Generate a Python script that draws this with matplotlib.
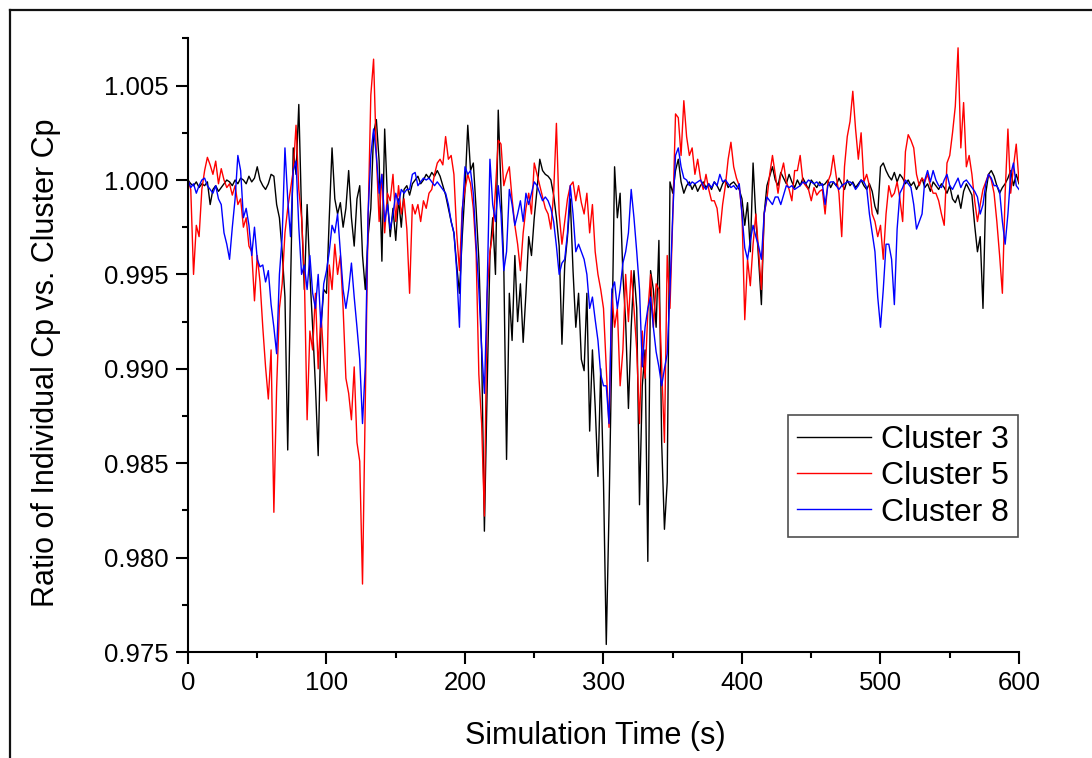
import numpy as np
import matplotlib
matplotlib.use("Agg")
import matplotlib.pyplot as plt
from matplotlib.ticker import MultipleLocator, FormatStrFormatter
from matplotlib.lines import Line2D

plt.rcParams['font.family'] = ['Liberation Sans', 'DejaVu Sans']

# Sampling grid of the simulation output (seconds)
time_s = np.arange(0, 601, 2)

# Ratio of individual Cp to cluster Cp, stored as (ratio - 1) in units of 1e-4.
# Each row holds 10 samples (20 s).
cluster3_offset = [
    0, -2, -3, -1, -4, -2, -3, -1, -13, -5,
    -3, -6, -4, -2, 0, -1, -3, 0, -2, 1,
    0, -2, 2, -1, 1, 7, 0, -3, -5, -2,
    3, 2, -13, -20, -38, -62, -143, -58, 17, 3,
    40, -18, -58, -13, -50, -78, -109, -146, -78, -58,
    -60, -20, 17, -10, -18, -12, -25, -15, 5, -20,
    -35, -10, -3, -40, -58, -30, -15, 25, 32, 10,
    -43, 27, -10, -30, -15, -32, -10, -25, -5, -3,
    -8, -2, 0, 2, -2, 0, 3, 1, 4, 2,
    5, 2, -3, -8, -15, -22, -28, -45, -60, -30,
    -5, 29, 5, 9, -15, -42, -90, -186, -110, -40,
    -20, -50, 37, -5, -45, -148, -60, -85, -40, -75,
    -55, -86, -60, -30, -40, -20, -5, 11, 5, 3,
    2, 0, -8, -20, -35, -87, -45, -30, -10, -48,
    -78, -60, -95, -101, -60, -133, -90, -120, -157, -100,
    -160, -246, -175, -90, 7, -20, -7, -50, -75, -121,
    -78, -48, -68, -172, -109, -90, -202, -48, -58, -78,
    -32, -139, -185, -160, -1, -7, 5, 11, -1, -7,
    -3, -1, -5, -2, -6, -3, -1, -4, -2, -5,
    -1, -3, -6, -2, 0, -4, -2, -1, -3, -5,
    -10, -24, -12, -38, 9, -20, -42, -66, -18, -3,
    2, 7, 0, -3, 4, 1, -2, 3, -1, -4,
    0, -3, 1, -2, -5, 0, -2, -4, -1, -3,
    -2, 0, -4, -1, -3, 1, -2, -5, 0, -3,
    -1, -4, -2, 0, -3, -5, -2, -6, -14, -18,
    7, 9, 5, 2, 0, 4, -1, 3, 1, -2,
    0, -3, -1, -5, -2, 1, -4, -2, -6, -1,
    -3, -5, -2, -4, -7, -3, -10, -12, -8, -15,
    -6, -2, -5, -8, -24, -38, -30, -68, -7, 3,
    5, 2, -3, -7, -4, -2, 1, 5, -3, 3,
    -2,
]

cluster5_offset = [
    0, -5, -50, -24, -30, -5, 5, 12, 8, 3,
    10, -2, 6, 0, -4, -2, -8, -3, -13, -10,
    -25, -20, -35, -38, -64, -40, -54, -78, -99, -116,
    -90, -176, -110, -68, -55, -28, -15, -5, 5, 29,
    -5, -20, -50, -127, -80, -90, -60, -100, -70, -95,
    -117, -45, -58, -34, -50, -40, -68, -105, -113, -127,
    -99, -139, -149, -214, -119, -22, 45, 64, 13, -22,
    3, -28, -7, -11, 3, -22, -3, -18, -10, -26,
    -60, -13, -18, -13, -22, -11, -15, -7, -5, 3,
    9, 11, 8, 23, 11, 13, 3, -28, -48, -15,
    -5, 3, -2, -15, -38, -103, -129, -178, -60, -38,
    -28, -5, 21, 19, -3, 3, 7, -10, -24, -34,
    -48, -28, -15, -7, -18, 9, 3, -3, -9, -15,
    -18, -26, -7, 30, -18, -34, -22, -10, -3, -1,
    -11, -3, -12, -18, -7, -28, -13, -38, -50, -58,
    -68, -100, -131, -60, -78, -68, -109, -90, -50, -75,
    -48, -68, -90, -129, -80, -105, -70, -50, -78, -55,
    -58, -99, -139, -40, -68, -20, 35, 33, 13, 42,
    23, 13, 17, 3, 11, 1, -5, 3, -5, -11,
    -11, -15, -28, -13, -3, 11, 20, 7, 1, -3,
    -18, -74, -42, -56, -34, -18, -38, -58, -18, -10,
    3, 13, 3, -7, 3, 9, -1, -5, -11, 5,
    5, 13, -1, -3, -5, -11, -4, -8, -6, -5,
    -18, -1, 3, 13, 2, -7, -30, 7, 23, 31,
    47, 27, 11, 25, -1, 3, -3, -18, -22, -30,
    -24, -42, -18, -3, -9, -7, -1, -10, -22, 15,
    24, 21, 17, 3, -3, 1, -1, 3, -3, -7,
    -7, -11, -18, -24, 9, 13, 25, 39, 70, 17,
    41, 7, 13, 3, -11, -22, -13, -5, -1, 3,
    0, -7, -22, -40, -60, -7, 27, -7, 7, 19,
    -1,
]

cluster8_offset = [
    0, -4, -2, -7, -3, 0, 1, -3, -5, -7,
    -3, -10, -13, -28, -34, -42, -25, -10, 13, 5,
    -20, -15, -24, -40, -25, -42, -46, -45, -54, -48,
    -66, -78, -92, -50, -30, 17, -10, -30, 5, 10,
    -25, -50, -45, -58, -40, -60, -68, -50, -78, -55,
    -48, -38, -24, -28, -18, -38, -58, -68, -58, -44,
    -62, -78, -95, -129, -99, -18, 13, 27, 13, -7,
    3, -22, -13, -26, -18, -7, -13, -5, -7, -5,
    -5, 3, 4, -3, -1, 1, 0, 1, -1, -3,
    -1, -3, -5, -7, -13, -22, -28, -48, -78, -18,
    7, 3, 5, -7, -34, -58, -89, -113, -58, 11,
    -13, -22, -3, -18, -48, -38, -5, -13, -24, -18,
    -11, -22, -7, -13, -7, -1, -3, -7, -11, -9,
    -11, -15, -22, -35, -50, -44, -42, -28, -3, -18,
    -38, -34, -38, -42, -50, -68, -62, -74, -85, -103,
    -109, -109, -129, -58, -54, -68, -58, -44, -38, -28,
    -5, -20, -38, -58, -99, -78, -68, -62, -78, -91,
    -99, -109, -100, -92, -58, -18, 13, 17, 7, 1,
    0, -3, -1, -2, -1, 0, -3, -5, -2, -4,
    -1, -3, 3, -1, 0, -2, -4, -3, -5, -2,
    -18, -36, -42, -32, -24, -30, -35, -42, -18, -9,
    -11, -13, -9, -9, -13, -8, -3, -4, -3, -5,
    -4, -3, -1, -2, 0, -1, -2, -1, -3, -2,
    -13, -3, -1, -1, -3, -5, -3, -2, -1, -1,
    -2, -5, -3, 0, -1, -4, -18, -28, -38, -62,
    -78, -58, -34, -34, -42, -66, -26, -7, -4, 0,
    -2, -4, -13, -26, -22, -18, 0, 5, -1, 5,
    0, -3, -4, 0, 3, -3, -5, -2, 1, -4,
    -1, 0, -2, -4, -6, -9, -18, -13, -2, 3,
    1, -3, -3, -6, -22, -34, -18, 3, 9, -3,
    -5,
]

series_offsets = [cluster3_offset, cluster5_offset, cluster8_offset]
series_labels = ["Cluster 3", "Cluster 5", "Cluster 8"]
series_colors = ["#000000", "#ff0000", "#0000ff"]

fig = plt.figure(figsize=(10.92, 7.58), dpi=100)
ax = fig.add_axes([0.17216, 0.13984, 0.76099, 0.8095])

for offs, lab, col in zip(series_offsets, series_labels, series_colors):
    ratio = 1.0 + np.asarray(offs, dtype=float) * 1e-4
    ax.plot(time_s, ratio, color=col, lw=1.0, label=lab)

ax.set_xlim(0, 600)
ax.set_ylim(0.975, 1.0075)
ax.xaxis.set_major_locator(MultipleLocator(100))
ax.xaxis.set_minor_locator(MultipleLocator(50))
ax.yaxis.set_major_locator(MultipleLocator(0.005))
ax.yaxis.set_minor_locator(MultipleLocator(0.0025))
ax.yaxis.set_major_formatter(FormatStrFormatter('%.3f'))

for side in ("top", "right"):
    ax.spines[side].set_visible(False)
for side in ("left", "bottom"):
    ax.spines[side].set_linewidth(1.5)

ax.tick_params(which="major", direction="out", length=8.6, width=1.5,
               labelsize=18.5, pad=5)
ax.tick_params(which="minor", direction="out", length=4.3, width=1.5)

ax.set_xlabel("Simulation Time (s)", fontsize=22)
ax.set_ylabel("Ratio of Individual Cp vs. Cluster Cp", fontsize=22)
ax.xaxis.set_label_coords(0.49, -0.113)
ax.yaxis.set_label_coords(-0.153, 0.472)

leg = ax.legend(loc="upper right", bbox_to_anchor=(0.9988, 0.386),
                fontsize=23, frameon=True, fancybox=False,
                edgecolor="#222222", handlelength=2.3, handletextpad=0.3,
                labelspacing=0.2, borderpad=0.3, borderaxespad=0)
leg.get_frame().set_linewidth(1.2)

# outer frame along the top and left edges
fx = 9.5 / 1092
fy = 1 - 9.5 / 758
fig.add_artist(Line2D([fx, 1.0], [fy, fy], transform=fig.transFigure,
                      color="#111111", lw=1.6))
fig.add_artist(Line2D([fx, fx], [0.0, fy], transform=fig.transFigure,
                      color="#111111", lw=1.6))

fig.savefig("out.png", dpi=100)
